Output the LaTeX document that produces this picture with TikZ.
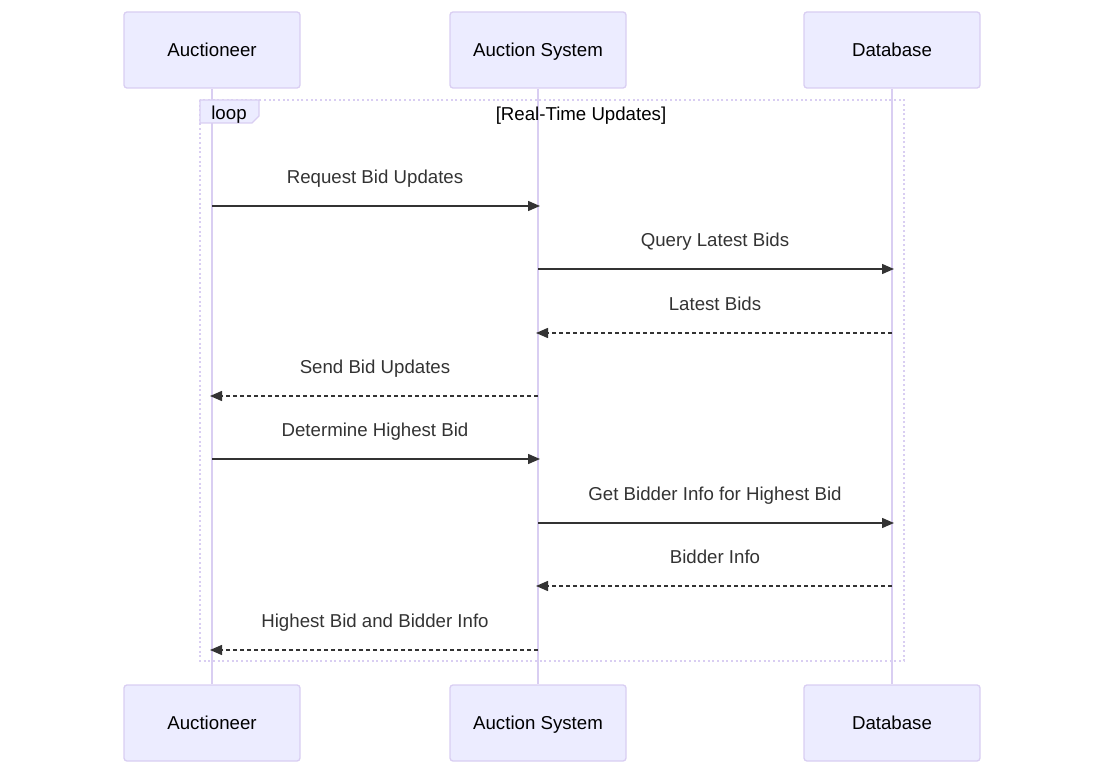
\documentclass[tikz,border=0pt]{standalone}
\usepackage{fontspec}
\setmainfont{Liberation Sans}
\usetikzlibrary{arrows.meta}
\definecolor{actfill}{HTML}{ECECFF}
\definecolor{actline}{HTML}{D9CEF2}
\definecolor{msgcol}{HTML}{333333}
\tikzset{
  txt/.style={font=\fontsize{14}{16}\selectfont, text height=11.5pt, text depth=1.5pt},
  actor/.style={txt, draw=actline, fill=actfill, line width=1pt, rounded corners=2.25pt,
    minimum width=132pt, minimum height=57pt, inner sep=0pt},
  lifeline/.style={draw=actline, line width=1.5pt},
  loopbox/.style={draw=actline, line width=1.5pt, dotted},
  msg/.style={draw=msgcol, line width=1.1pt, shorten >=-1.5pt, -{Triangle[length=9pt,width=7.5pt]}},
  reply/.style={msg, dash pattern=on 3pt off 2.25pt},
  msglabel/.style={txt, text=msgcol, yshift=21.75pt}
}
\begin{document}
\begin{tikzpicture}[x=0.75pt,y=-0.75pt]
\useasboundingbox (0,0) rectangle (1104,774);
% actors
\node[actor] (auc)  at (212,50)  {Auctioneer};
\node[actor] (sys)  at (538,50)  {Auction System};
\node[actor] (db)   at (892,50)  {Database};
\node[actor] (aucB) at (212,723) {Auctioneer};
\node[actor] (sysB) at (538,723) {Auction System};
\node[actor] (dbB)  at (892,723) {Database};
% lifelines
\draw[lifeline] (auc) -- (aucB);
\draw[lifeline] (sys) -- (sysB);
\draw[lifeline] (db) -- (dbB);
% loop frame
\draw[loopbox] (200,100) rectangle (904,661);
\filldraw[draw=actline, fill=actfill, line width=1pt]
  (200,100) -- (259,100) -- (259,116) -- (252,123) -- (200,123) -- cycle;
\node[txt] (looplbl) at (229,113) {loop};
\node[txt] (loopcond) at (581,114) {[Real-Time Updates]};
% messages
\foreach \y/\src/\dst/\kind/\lbl in {
  206/auc/sys/msg/Request Bid Updates,
  269/sys/db/msg/Query Latest Bids,
  333/db/sys/reply/Latest Bids,
  396/sys/auc/reply/Send Bid Updates,
  459/auc/sys/msg/Determine Highest Bid,
  523/sys/db/msg/Get Bidder Info for Highest Bid,
  586/db/sys/reply/Bidder Info,
  650/sys/auc/reply/Highest Bid and Bidder Info}
  \draw[\kind] (\src |- 0,\y) -- (\dst |- 0,\y) node[midway, msglabel] {\lbl};
\end{tikzpicture}
\end{document}
